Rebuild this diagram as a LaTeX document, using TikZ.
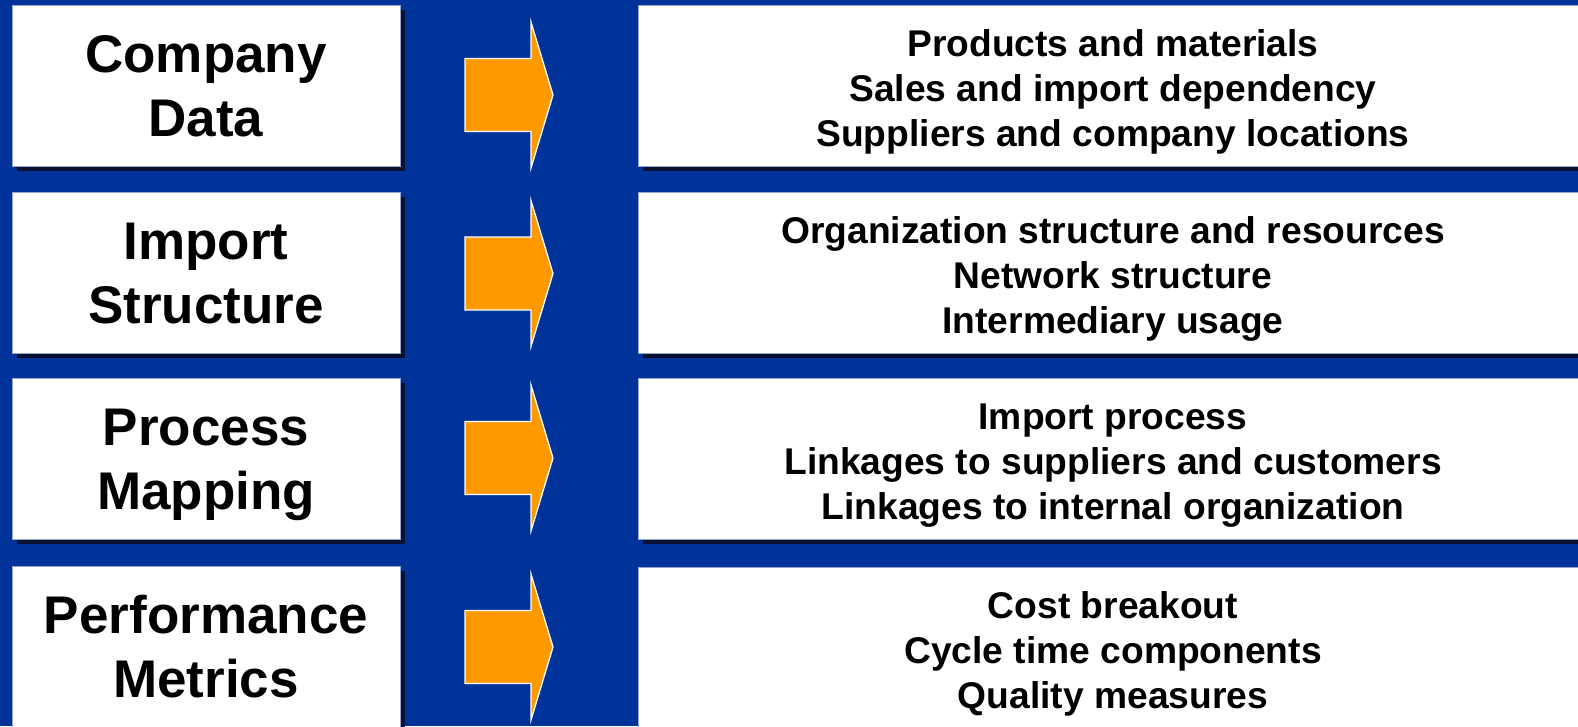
\documentclass[tikz,border=0pt]{standalone}
\usepackage{fontspec}
\setmainfont{Liberation Sans}
\usetikzlibrary{shadows}
\definecolor{bgblue}{RGB}{0,51,153}
\definecolor{arroworange}{RGB}{255,153,0}
\definecolor{shadowcol}{RGB}{10,16,48}
\definecolor{edgecol}{RGB}{150,168,210}
\begin{document}
\begin{tikzpicture}[x=1pt,y=-1pt,
  panel/.style={rectangle, fill=white, draw=edgecol, line width=1pt, inner sep=0pt,
    minimum height=161pt,
    drop shadow={shadow xshift=5pt, shadow yshift=-5pt, fill=shadowcol, opacity=1}},
  leftbox/.style={panel, minimum width=388pt},
  rightbox/.style={panel, minimum width=950pt},
  lefttxt/.style={anchor=base, inner sep=0pt, font=\fontsize{53}{63.5}\selectfont\bfseries},
  righttxt/.style={anchor=base, inner sep=0pt, font=\fontsize{37.2}{45}\selectfont\bfseries},
  blockarrow/.style={fill=arroworange, draw=white, line width=1.3pt, line join=miter}
]
\useasboundingbox (0,0) rectangle (1578,726);
\fill[bgblue] (0,0) rectangle (1578,726);

% row 1
\node[leftbox] (lb1) at (206,85.5) {};
\node[rightbox] (rb1) at (1113,85.5) {};
\node[lefttxt] (lt1a) at (206,72.7) {Company};
\node[lefttxt] (lt1b) at (206,136.2) {Data};
\node[righttxt] (rt1a) at (1113,56.1) {Products and materials};
\node[righttxt] (rt1b) at (1113,101.1) {Sales and import dependency};
\node[righttxt] (rt1c) at (1113,146.1) {Suppliers and company locations};
\draw[blockarrow] (465,58.5) -- (531,58.5) -- (531,22) -- (553,95) -- (531,168) -- (531,131.5) -- (465,131.5) -- cycle;

% row 2
\node[leftbox] (lb2) at (206,272.5) {};
\node[rightbox] (rb2) at (1113,272.5) {};
\node[lefttxt] (lt2a) at (206,259.7) {Import};
\node[lefttxt] (lt2b) at (206,323.2) {Structure};
\node[righttxt] (rt2a) at (1113,243.1) {Organization structure and resources};
\node[righttxt] (rt2b) at (1113,288.1) {Network structure};
\node[righttxt] (rt2c) at (1113,333.1) {Intermediary usage};
\draw[blockarrow] (465,237) -- (531,237) -- (531,200.5) -- (553,273.5) -- (531,346.5) -- (531,310) -- (465,310) -- cycle;

% row 3
\node[leftbox] (lb3) at (206,458.5) {};
\node[rightbox] (rb3) at (1113,458.5) {};
\node[lefttxt] (lt3a) at (206,445.7) {Process};
\node[lefttxt] (lt3b) at (206,509.2) {Mapping};
\node[righttxt] (rt3a) at (1113,429.1) {Import process};
\node[righttxt] (rt3b) at (1113,474.1) {Linkages to suppliers and customers};
\node[righttxt] (rt3c) at (1113,519.1) {Linkages to internal organization};
\draw[blockarrow] (465,421.5) -- (531,421.5) -- (531,385) -- (553,458) -- (531,531) -- (531,494.5) -- (465,494.5) -- cycle;

% row 4
\node[leftbox] (lb4) at (206,646.5) {};
\node[rightbox] (rb4) at (1113,648) {};
\node[lefttxt] (lt4a) at (206,633.7) {Performance};
\node[lefttxt] (lt4b) at (206,697.2) {Metrics};
\node[righttxt] (rt4a) at (1113,618.1) {Cost breakout};
\node[righttxt] (rt4b) at (1113,663.1) {Cycle time components};
\node[righttxt] (rt4c) at (1113,708.1) {Quality measures};
\draw[blockarrow] (465,610.5) -- (531,610.5) -- (531,574) -- (553,647) -- (531,720) -- (531,683.5) -- (465,683.5) -- cycle;
\end{tikzpicture}
\end{document}
